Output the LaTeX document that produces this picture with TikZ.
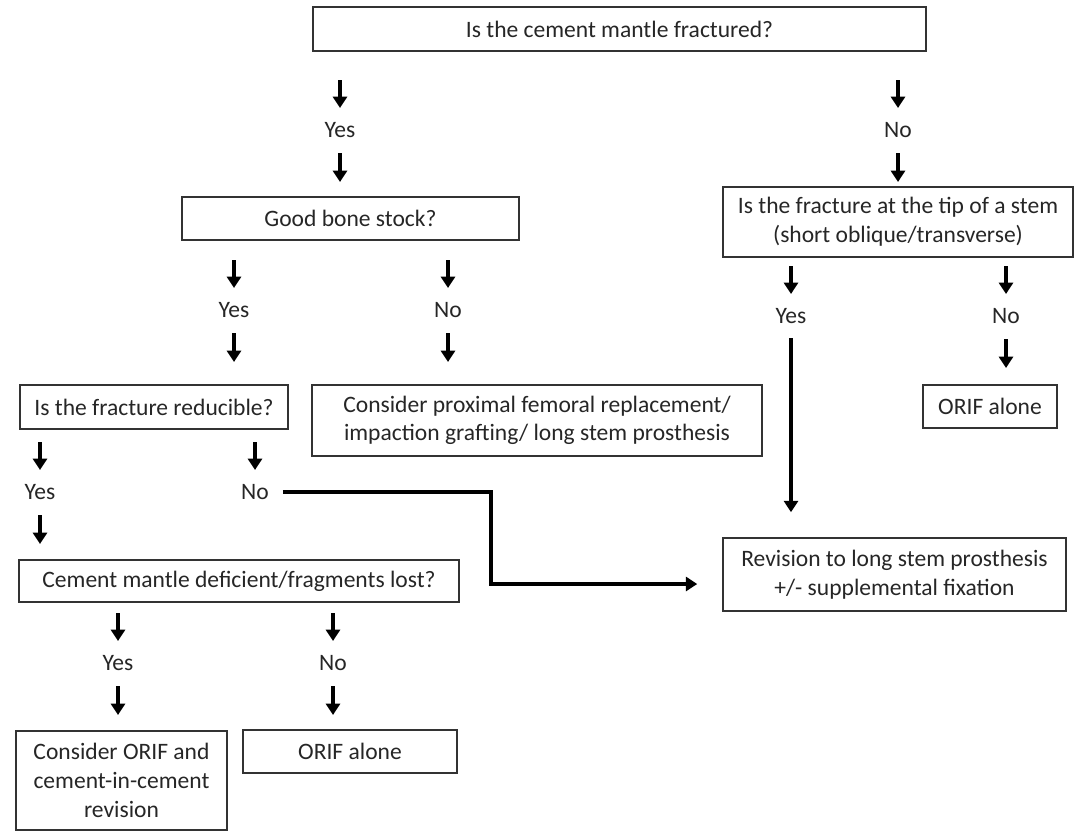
\documentclass[tikz,border=0pt]{standalone}
\usepackage{fontspec}
\setmainfont{Carlito}
\usetikzlibrary{arrows.meta,calc}

\begin{document}
\begin{tikzpicture}[x=0.02cm,y=-0.02cm,
                    >={Triangle[width=8pt,length=6.5pt]},
                    box/.style={draw=black!80,line width=0.9pt,inner sep=0pt,align=center,
                        text=black!85,font=\fontsize{13.4}{16.3}\selectfont},
                    lbl/.style={inner sep=1pt,text=black!85,font=\fontsize{13.4}{16.3}\selectfont},
                    arr/.style={->,line width=2pt}]
                    \useasboundingbox (0,0) rectangle (1077,836);
                    % questions and outcomes
                    \node[box,minimum width=12.26cm,minimum height=0.88cm] (cem) at (619.5,29) {Is the cement mantle fractured?};
                    \node[box,minimum width=6.74cm,minimum height=0.86cm] (bone) at (350.5,218.5) {Good bone stock?};
                    \node[box,minimum width=7.0cm,minimum height=1.4cm] (tip) at (898,222) {Is the fracture at the tip of a stem\\(short oblique/transverse)};
                    \node[box,minimum width=9.0cm,minimum height=1.42cm] (prox) at (537,420.5) {Consider proximal femoral replacement/\\impaction grafting/ long stem prosthesis};
                    \node[box,minimum width=2.68cm,minimum height=0.86cm] (orifa) at (990,406.5) {ORIF alone};
                    \node[box,minimum width=5.36cm,minimum height=0.88cm] (red) at (154,407) {Is the fracture reducible?};
                    \node[box,minimum width=6.86cm,minimum height=1.46cm] (rev) at (894.5,574.5) {Revision to long stem prosthesis\\+/- supplemental fixation};
                    \node[box,minimum width=8.8cm,minimum height=0.84cm] (mant) at (239,581) {Cement mantle deficient/fragments lost?};
                    \node[box,minimum width=4.22cm,minimum height=1.98cm] (cic) at (121.5,780.5) {Consider ORIF and\\cement-in-cement\\revision};
                    \node[box,minimum width=4.28cm,minimum height=0.86cm] (orifb) at (350,751.5) {ORIF alone};
                    % yes / no
                    \node[lbl] (y0) at (340,130) {Yes};
                    \node[lbl] (n0) at (898,130) {No};
                    \node[lbl] (y1) at (234,310) {Yes};
                    \node[lbl] (n1) at (448,310) {No};
                    \node[lbl] (y2) at (791,316) {Yes};
                    \node[lbl] (n2) at (1006,316) {No};
                    \node[lbl] (y3) at (40,492) {Yes};
                    \node[lbl] (n3) at (255,492) {No};
                    \node[lbl] (y4) at (118,663) {Yes};
                    \node[lbl] (n4) at (333,663) {No};
                    \coordinate (bend) at (491,492);
                    % arrows
                    \foreach \l in {y0,n0,y1,n1,y2,n2,y3,n3,y4,n4}
                        \draw[arr] ($(\l)+(0,-50)$) -- ($(\l)+(0,-22)$);
                    \foreach \l in {y0,n0,y1,n1,n2,y3,y4,n4}
                        \draw[arr] ($(\l)+(0,23)$) -- ($(\l)+(0,52)$);
                    \draw[arr] ($(y2)+(0,22)$) -- ($(y2|-rev.north)+(0,-25)$);
                    \draw[arr] ($(n3.east)+(12,0)$) -- (bend) |- ($(rev.west)+(-25,9.5)$);
                \end{tikzpicture}
\end{document}
